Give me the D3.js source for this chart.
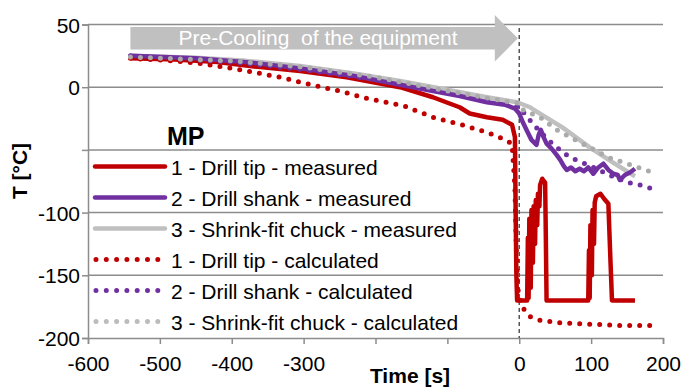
<!DOCTYPE html>
<html>
<head>
<meta charset="utf-8">
<script src="https://cdn.jsdelivr.net/npm/d3@7"></script>
<style>
  body { margin: 0; background: #fff; }
  svg { font-family: "Liberation Sans", Arial, sans-serif; }
</style>
</head>
<body>
<svg id="chart" width="697" height="387"></svg>
<script>
// Data: [time s, temperature °C]
const tipMeasured = [[-541,23],[-480,22],[-420,20],[-360,16],[-305,13],[-240,8],[-166,0],[-120,-8],[-97,-13],[-83,-16],[-69,-21],[-45,-24],[-23,-26],[-10,-30],[-6,-40],[-5,-100],[-4,-150],[-3,-170],[11,-170],[12,-120],[13,-168],[14,-105],[16,-160],[17,-98],[19,-140],[20,-95],[22,-125],[23,-90],[25,-110],[26,-85],[28,-95],[29,-78],[32,-73],[36,-76],[37,-120],[38,-170],[96,-170],[97,-130],[98,-168],[99,-110],[101,-150],[102,-98],[104,-125],[105,-92],[107,-87],[113,-85],[118,-89],[124,-93],[127,-140],[129,-170],[161,-170]];
const shankMeasured = [[-541,25],[-450,23],[-380,20],[-305,15],[-230,9],[-166,2],[-120,-3],[-83,-7],[-45,-12],[-20,-14],[-6,-17],[0,-21],[5,-28],[10,-34],[17,-42],[24,-46],[27,-38],[30,-34],[34,-40],[38,-45],[45,-49],[52,-54],[57,-58],[62,-63],[66,-66],[72,-64],[78,-67],[84,-65],[90,-67],[96,-64],[103,-69],[110,-64],[117,-61],[124,-66],[131,-69],[137,-70],[140,-74],[147,-70],[154,-68],[161,-65]];
const chuckMeasured = [[-541,25],[-450,23.5],[-380,21],[-305,17],[-230,11],[-166,5],[-100,-2],[-45,-8],[-3,-12],[15,-16],[20,-18],[60,-32],[98,-48],[130,-60],[161,-71]];
const tipCalculated = [[-541,23],[-480,21],[-444,19],[-389,14],[-333,8],[-298,3],[-250,-3],[-212,-9],[-160,-15],[-120,-24],[-80,-30],[-45,-36],[-23,-41],[-10,-45],[-6,-80],[-4,-130],[-2,-160],[0,-168],[5,-176],[15,-183],[30,-186],[60,-188],[100,-189],[140,-190],[182,-190]];
const shankCalculated = [[-541,25],[-400,20],[-300,14],[-200,6],[-100,-4],[-50,-10],[0,-16],[20,-30],[40,-42],[63,-53],[75,-57],[100,-63],[125,-70],[151,-76],[168,-78],[191,-82]];
const chuckCalculated = [[-541,24],[-400,21],[-300,16],[-200,8],[-100,-3],[-50,-8],[0,-13],[5,-18],[29,-24],[52,-34],[75,-41],[101,-49],[124,-56],[150,-61],[175,-66],[191,-69]];

const seriesNames = ['1 - Drill tip - measured', '2 - Drill shank - measured', '3 - Shrink-fit chuck - measured',
  '1 - Drill tip - calculated', '2 - Drill shank - calculated', '3 - Shrink-fit chuck - calculated'];

const xTicks = [-600, -500, -400, -300, -200, -100, 0, 100, 200];
const xTickLabels = ['-600', '-500', '-400', '-300', '', '', '0', '100', '200'];
const yTicks = [50, 0, -50, -100, -150, -200];
const yTickLabels = ['50', '0', '', '-100', '-150', '-200'];

const svg = d3.select('#chart');
const gridColor = '#8c8c8c';

const x = d3.scaleLinear().domain([-600, 200]).range([88, 663]);
const y = d3.scaleLinear().domain([-200, 50]).range([338, 24.5]);

// horizontal gridlines
svg.append('g')
  .selectAll('line')
  .data(yTicks.filter(d => d > -200))
  .enter().append('line')
  .attr('x1', x(-600)).attr('x2', x(200))
  .attr('y1', d => y(d)).attr('y2', d => y(d))
  .attr('stroke', gridColor).attr('stroke-width', 1.5);

// axes
const xAxis = svg.append('g')
  .attr('transform', `translate(0,${y(-200)})`)
  .call(d3.axisBottom(x).tickValues(xTicks).tickFormat((d, i) => xTickLabels[i]).tickSizeOuter(0).tickSize(6).tickPadding(8));
const yAxis = svg.append('g')
  .attr('transform', `translate(${x(-600)},0)`)
  .call(d3.axisLeft(y).tickValues(yTicks).tickFormat((d, i) => yTickLabels[i]).tickSizeOuter(0).tickSize(6).tickPadding(2));

[xAxis, yAxis].forEach(a => {
  a.select('.domain').attr('stroke', gridColor).attr('stroke-width', 1.5);
  a.selectAll('.tick line').attr('stroke', gridColor).attr('stroke-width', 1.5);
  a.selectAll('.tick text').attr('fill', '#000').style('font-size', '21px').style('font-family', '"Liberation Sans", Arial, sans-serif');
});
yAxis.selectAll('.tick text').attr('dy', '0.36em');
xAxis.selectAll('.tick text').attr('dy', '0.9em');

// axis titles
svg.append('text')
  .attr('x', 410).attr('y', 383)
  .attr('text-anchor', 'middle')
  .style('font-size', '21px').style('font-weight', 'bold')
  .text('Time [s]');
svg.append('text')
  .attr('transform', 'translate(27,171) rotate(-90)')
  .attr('text-anchor', 'middle')
  .style('font-size', '21px').style('font-weight', 'bold')
  .text('T [°C]');

// pre-cooling arrow
svg.append('path')
  .attr('d', `M${x(-541)},${y(48)} L${x(-34)},${y(48)} L${x(-34)},${y(57.5)} L${x(-2)},${y(39)} L${x(-34)},${y(20.5)} L${x(-34)},${y(30)} L${x(-541)},${y(30)} Z`)
  .attr('fill', '#c0c0c0');
svg.append('text')
  .attr('x', 318).attr('y', 45)
  .attr('text-anchor', 'middle')
  .attr('fill', '#fff')
  .style('font-size', '21px')
  .style('white-space', 'pre')
  .text('Pre-Cooling  of the equipment');

// dashed line at t = 0
svg.append('line')
  .attr('x1', x(0)).attr('x2', x(0))
  .attr('y1', 28).attr('y2', y(-200))
  .attr('stroke', '#555').attr('stroke-width', 1.5)
  .attr('stroke-dasharray', '4,3');

// series
const line = d3.line().x(d => x(d[0])).y(d => y(d[1]));
const solidStyle = { width: 4.5, dash: null, cap: 'butt' };
const dotStyle = { width: 5, dash: '0 10', cap: 'round' };
const series = [
  { data: chuckMeasured, color: '#c0c0c0', style: solidStyle },
  { data: tipMeasured, color: '#c00000', style: solidStyle },
  { data: shankMeasured, color: '#7030a0', style: solidStyle },
  { data: tipCalculated, color: '#c00000', style: dotStyle },
  { data: shankCalculated, color: '#7030a0', style: dotStyle },
  { data: chuckCalculated, color: '#ababab', style: dotStyle }
];
svg.append('g')
  .selectAll('path')
  .data(series)
  .enter().append('path')
  .attr('d', s => line(s.data))
  .attr('fill', 'none')
  .attr('stroke', s => s.color)
  .attr('stroke-width', s => s.style.width)
  .attr('stroke-linejoin', 'round')
  .attr('stroke-linecap', s => s.style.cap)
  .attr('stroke-dasharray', s => s.style.dash);

// legend
const legendColors = ['#c00000', '#7030a0', '#c0c0c0', '#c00000', '#7030a0', '#bcbcbc'];
svg.append('text')
  .attr('x', 167).attr('y', 145)
  .style('font-size', '25px').style('font-weight', 'bold')
  .text('MP');
const legend = svg.append('g')
  .selectAll('g')
  .data(seriesNames)
  .enter().append('g')
  .attr('transform', (d, i) => `translate(0,${166.5 + i * 31})`);
legend.append('line')
  .attr('x1', (d, i) => i < 3 ? 95 : 96)
  .attr('x2', (d, i) => i < 3 ? 165 : 158)
  .attr('stroke', (d, i) => legendColors[i])
  .attr('stroke-width', (d, i) => i < 3 ? 4.5 : 5)
  .attr('stroke-linecap', 'round')
  .attr('stroke-dasharray', (d, i) => i < 3 ? null : '0 10.3');
legend.append('text')
  .attr('x', 171).attr('y', 8)
  .style('font-size', '21px')
  .text(d => d);
</script>
</body>
</html>
